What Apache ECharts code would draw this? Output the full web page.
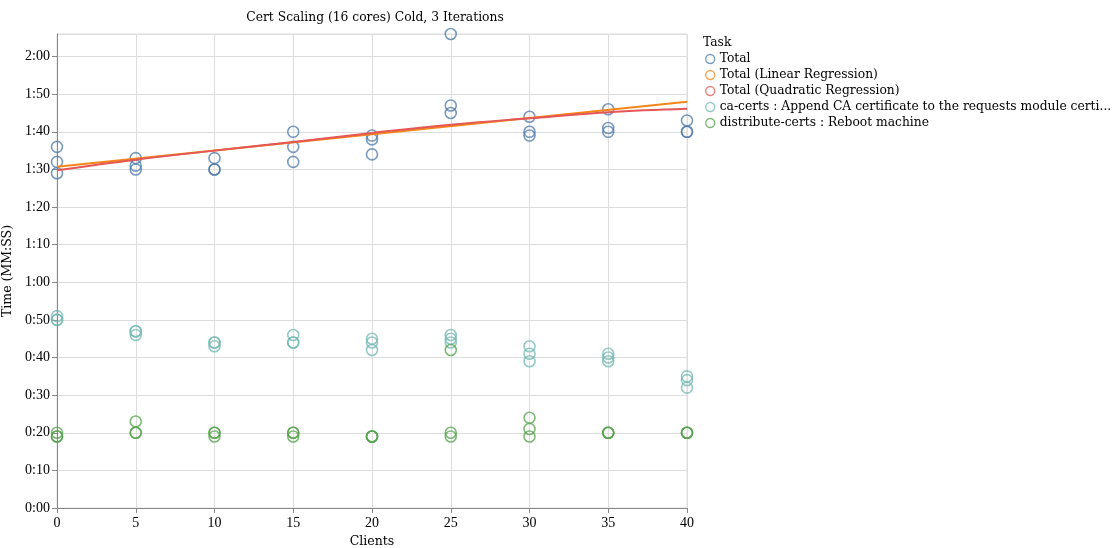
<!DOCTYPE html>
<html>
<head>
<meta charset="utf-8">
<script src="https://cdn.jsdelivr.net/npm/echarts@6/dist/echarts.min.js"></script>
<style>
html,body{margin:0;padding:0;background:#fff;}
#chart{width:1120px;height:548px;}
</style>
</head>
<body>
<div id="chart"></div>
<script>
// ---- data (seconds) ----
const clients = [0, 5, 10, 15, 20, 25, 30, 35, 40];
const totalRun1 = [96, 93, 93, 100, 99, 126, 104, 106, 103];
const totalRun2 = [92, 91, 90, 96, 98, 107, 100, 101, 100];
const totalRun3 = [89, 90, 90, 92, 94, 105, 99, 100, 100];
const caRun1 = [51, 47, 44, 46, 45, 46, 43, 41, 35];
const caRun2 = [50, 47, 44, 44, 44, 45, 41, 40, 34];
const caRun3 = [50, 46, 43, 44, 42, 44, 39, 39, 32];
const distRun1 = [20, 23, 20, 20, 19, 42, 24, 20, 20];
const distRun2 = [19, 20, 20, 20, 19, 20, 21, 20, 20];
const distRun3 = [19, 20, 19, 19, 19, 19, 19, 20, 20];
const linearX = [0, 40];
const linearFit = [90.7, 108.0];
const quadFit = [89.8, 92.6, 95.0, 97.3, 99.7, 101.9, 103.6, 105.2, 106.1];
const seriesNames = [
  'Total',
  'Total (Linear Regression)',
  'Total (Quadratic Regression)',
  'ca-certs : Append CA certificate to the requests module certi...',
  'distribute-certs : Reboot machine'
];
const colors = ['#4c78a8', '#f58518', '#e45756', '#72b7b2', '#54a24b'];
const yTicks = [0, 10, 20, 30, 40, 50, 60, 70, 80, 90, 100, 110, 120];

// ---- build ----
function pts(runs) {
  const out = [];
  runs.forEach(r => r.forEach((v, i) => out.push([clients[i], v])));
  return out;
}
function fmt(v) {
  const m = Math.floor(v / 60), s = v % 60;
  return m + ':' + (s < 10 ? '0' : '') + s;
}
const TXT = '"DejaVu Serif", serif';
const NUM = '"Liberation Serif", serif';
function scatter(name, color, runs) {
  return {
    name: name, type: 'scatter', symbol: 'circle', symbolSize: 11,
    data: pts(runs),
    itemStyle: { color: 'rgba(0,0,0,0)', borderColor: color, borderWidth: 1.6, opacity: 0.75 },
    emphasis: { disabled: true }, z: 3
  };
}
const chart = echarts.init(document.getElementById('chart'), null, { renderer: 'canvas' });
chart.setOption({
  animation: false,
  textStyle: { fontFamily: TXT },
  title: [
    { text: 'Cert Scaling (16 cores) Cold, 3 Iterations', left: 370, top: 7, textAlign: 'center',
      textStyle: { fontFamily: TXT, fontSize: 12.3, fontWeight: 'normal', color: '#000' } },
    { text: 'Task', left: 698, top: 32,
      textStyle: { fontFamily: TXT, fontSize: 12.3, fontWeight: 'normal', color: '#000' } }
  ],
  legend: {
    orient: 'vertical', left: 700, top: 47,
    itemWidth: 9, itemHeight: 9, itemGap: 2,
    textStyle: { fontFamily: TXT, fontSize: 12.3, color: '#000', lineHeight: 14 },
    data: seriesNames.map((n, i) => ({
      name: n, icon: 'circle',
      itemStyle: { color: 'rgba(0,0,0,0)', borderColor: colors[i], borderWidth: 1.4, opacity: 0.75 },
      lineStyle: { width: 0 }
    }))
  },
  grid: { left: 57, right: 433, top: 34, bottom: 40, show: true, borderColor: '#ddd', borderWidth: 1,
    outerBoundsMode: 'none', containLabel: false },
  xAxis: {
    type: 'value', min: 0, max: 40, interval: 5,
    name: 'Clients', nameLocation: 'middle', nameGap: 25,
    nameTextStyle: { fontFamily: TXT, fontSize: 12.5, color: '#000' },
    axisLine: { lineStyle: { color: '#888', width: 1 } },
    axisTick: { show: true, length: 5, lineStyle: { color: '#888' } },
    axisLabel: { fontFamily: NUM, fontSize: 14, color: '#000', margin: 8 },
    splitLine: { show: true, lineStyle: { color: '#ddd', width: 1 } }
  },
  yAxis: {
    type: 'value', min: 0, max: 126, interval: 10,
    name: 'Time (MM:SS)', nameLocation: 'middle', nameGap: 41,
    nameTextStyle: { fontFamily: TXT, fontSize: 12.5, color: '#000' },
    axisLine: { show: true, lineStyle: { color: '#888', width: 1 } },
    axisTick: { show: true, length: 5, lineStyle: { color: '#888' } },
    axisLabel: { fontFamily: NUM, fontSize: 14, color: '#000', margin: 7, showMaxLabel: false,
      formatter: v => (yTicks.indexOf(v) >= 0 ? fmt(v) : '') },
    splitLine: { show: true, lineStyle: { color: '#ddd', width: 1 } }
  },
  series: [
    scatter(seriesNames[0], colors[0], [totalRun1, totalRun2, totalRun3]),
    { name: seriesNames[1], type: 'line', showSymbol: false, symbol: 'none',
      data: linearX.map((x, i) => [x, linearFit[i]]),
      lineStyle: { color: colors[1], width: 2 }, itemStyle: { color: colors[1] }, z: 4 },
    { name: seriesNames[2], type: 'line', showSymbol: false, symbol: 'none', smooth: 0.4,
      data: clients.map((x, i) => [x, quadFit[i]]),
      lineStyle: { color: colors[2], width: 2 }, itemStyle: { color: colors[2] }, z: 4 },
    scatter(seriesNames[3], colors[3], [caRun1, caRun2, caRun3]),
    scatter(seriesNames[4], colors[4], [distRun1, distRun2, distRun3])
  ]
});
</script>
</body>
</html>
